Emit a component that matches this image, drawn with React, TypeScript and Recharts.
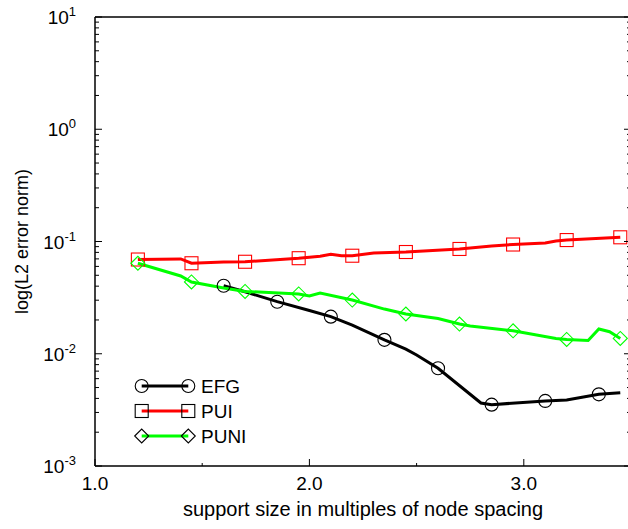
import { Label, Legend, Line, LineChart, XAxis, YAxis } from "recharts";

const FONT = "'Liberation Sans', Arial, Helvetica, sans-serif";

// EFG
const efgX = [1.6, 1.7, 1.85, 2.0, 2.1, 2.2, 2.35, 2.45, 2.5, 2.6, 2.8, 2.85, 3.1, 3.2, 3.35, 3.45];
const efgErr = [0.0404, 0.0357, 0.0291, 0.0243, 0.0214, 0.018, 0.0133, 0.011, 0.00975, 0.00742, 0.00364, 0.00352, 0.0038, 0.00388, 0.00435, 0.0045];
const efgMarks = [1.6, 1.85, 2.1, 2.35, 2.6, 2.85, 3.1, 3.35];

// PUI
const puiX = [1.2, 1.4, 1.45, 1.6, 1.7, 1.95, 2.05, 2.1, 2.15, 2.2, 2.3, 2.45, 2.7, 2.85, 2.95, 3.1, 3.15, 3.2, 3.45];
const puiErr = [0.0691, 0.07, 0.064, 0.0656, 0.066, 0.071, 0.074, 0.0769, 0.0747, 0.0747, 0.079, 0.0806, 0.0858, 0.0912, 0.094, 0.097, 0.101, 0.103, 0.109];
const puiMarks = [1.2, 1.45, 1.7, 1.95, 2.2, 2.45, 2.7, 2.95, 3.2, 3.45];

// PUNI
const puniX = [1.2, 1.4, 1.45, 1.6, 1.7, 1.95, 2.0, 2.05, 2.2, 2.35, 2.45, 2.6, 2.7, 2.75, 2.95, 3.15, 3.2, 3.3, 3.35, 3.4, 3.45];
const puniErr = [0.064, 0.0493, 0.0436, 0.0385, 0.0359, 0.0341, 0.0327, 0.0348, 0.0301, 0.025, 0.0226, 0.0206, 0.0184, 0.0177, 0.016, 0.0137, 0.0134, 0.0131, 0.0166, 0.0157, 0.0137];
const puniMarks = [1.2, 1.45, 1.7, 1.95, 2.2, 2.45, 2.7, 2.95, 3.2, 3.45];

const seriesNames = ["EFG", "PUI", "PUNI"];
const seriesColors = ["#000000", "#ff0000", "#00ff00"];
const seriesShapes = ["circle", "square", "diamond"];

const xTicks = [1, 1.5, 2, 2.5, 3];
const xMajor = [1, 2, 3];
const decades = [0.001, 0.01, 0.1, 1];
const mults = [1, 2, 3, 4, 5, 6, 7, 8, 9];
const yTicks = [...decades.flatMap(d => mults.map(m => +(d * m).toPrecision(3))), 10];

const toData = (xs: number[], ys: number[]) => xs.map((x, i) => ({ x, y: ys[i] }));

const isDecade = (v: number) => Math.abs(Math.log10(v) - Math.round(Math.log10(v))) < 1e-9;

function Marker({ shape, cx, cy, color }: { shape: string; cx: number; cy: number; color: string }) {
  if (shape === "circle") return <circle cx={cx} cy={cy} r={6.5} fill="none" stroke={color} strokeWidth={1.1} />;
  if (shape === "square") return <rect x={cx - 6.5} y={cy - 6.5} width={13} height={13} fill="none" stroke={color} strokeWidth={1.1} />;
  return <path d={`M${cx - 7},${cy}L${cx},${cy - 7}L${cx + 7},${cy}L${cx},${cy + 7}Z`} fill="none" stroke={color} strokeWidth={1.1} />;
}

const makeDot = (marks: number[], shape: string, color: string) => (p: any) => {
  if (!marks.includes(p.payload?.x) || p.cx == null) return <g key={`n${p.index}`} />;
  return (
    <g key={`m${p.index}`}>
      <Marker shape={shape} cx={p.cx} cy={p.cy} color={color} />
    </g>
  );
};

const LeftTick = ({ x, y, payload }: any) => {
  const major = isDecade(payload.value);
  const e = Math.round(Math.log10(payload.value));
  return (
    <g>
      <line x1={x} x2={x + (major ? 7 : 4)} y1={y} y2={y} stroke="#000" strokeWidth={1} />
      {major && (
        <text x={x - 19} y={y + 7} textAnchor="end" fontFamily={FONT} fontSize={19} fill="#000">
          10<tspan dy={-8} fontSize={13}>{String(e)}</tspan>
        </text>
      )}
    </g>
  );
};

const RightTick = ({ x, y, payload }: any) => {
  const major = isDecade(payload.value);
  return <line x1={x} x2={x - (major ? 7 : 4)} y1={y} y2={y} stroke="#000" strokeWidth={1} />;
};

const BottomTick = ({ x, y, payload }: any) => {
  const major = xMajor.includes(payload.value);
  return (
    <g>
      <line x1={x} x2={x} y1={y} y2={y - (major ? 7 : 3)} stroke="#000" strokeWidth={1} />
      {major && (
        <text x={x} y={y + 24} textAnchor="middle" fontFamily={FONT} fontSize={19} fill="#000">
          {payload.value.toFixed(1)}
        </text>
      )}
    </g>
  );
};

const TopTick = ({ x, y, payload }: any) => {
  const major = xMajor.includes(payload.value);
  return <line x1={x} x2={x} y1={y} y2={y + (major ? 7 : 3)} stroke="#000" strokeWidth={1} />;
};

function LegendBox() {
  return (
    <svg width={130} height={80} style={{ display: "block", overflow: "visible" }}>
      {seriesNames.map((name, i) => {
        const cy = 16 + i * 25;
        return (
          <g key={name}>
            <line x1={11.7} x2={58.3} y1={cy} y2={cy} stroke={seriesColors[i]} strokeWidth={3} />
            <Marker shape={seriesShapes[i]} cx={11.7} cy={cy} color="#000" />
            <Marker shape={seriesShapes[i]} cx={58.3} cy={cy} color="#000" />
            <text x={71} y={cy + 7} fontFamily={FONT} fontSize={19} fill="#000">{name}</text>
          </g>
        );
      })}
    </svg>
  );
}

const axisLine = { stroke: "#000", strokeWidth: 1.5 };

export default function App() {
  const series = [toData(efgX, efgErr), toData(puiX, puiErr), toData(puniX, puniErr)];
  const marks = [efgMarks, puiMarks, puniMarks];
  return (
    <div style={{ position: "absolute", left: 0, top: 0, width: 628, height: 529, overflow: "hidden", background: "#fff" }}>
      <LineChart width={640} height={529} margin={{ top: 0, right: 0, bottom: 0, left: 0 }}>
        <XAxis dataKey="x" type="number" domain={[1, 3.5]} ticks={xTicks} allowDataOverflow
          height={63} tickSize={0} tickMargin={0} tickLine={false} axisLine={axisLine} tick={BottomTick} interval={0}>
          <Label content={(p: any) => {
            const vb = p.viewBox || { x: 95, y: 466, width: 536, height: 63 };
            return (
              <text x={vb.x + vb.width / 2} y={vb.y + 50} textAnchor="middle" fontFamily={FONT} fontSize={20} fill="#000">
                support size in multiples of node spacing
              </text>
            );
          }} />
        </XAxis>
        <XAxis xAxisId="top" orientation="top" type="number" domain={[1, 3.5]} ticks={xTicks.slice(1)} allowDataOverflow
          height={17} tickSize={0} tickMargin={0} tickLine={false} axisLine={axisLine} tick={TopTick} interval={0} />
        <YAxis type="number" scale="log" domain={[0.001, 10]} ticks={yTicks} allowDataOverflow
          width={95} tickSize={0} tickMargin={0} tickLine={false} axisLine={axisLine} tick={LeftTick} interval={0}>
          <Label content={(p: any) => {
            const vb = p.viewBox || { x: 0, y: 17, width: 95, height: 449 };
            const cx = vb.x + 28;
            const cy = vb.y + vb.height / 2;
            return (
              <text x={cx} y={cy} transform={`rotate(-90 ${cx} ${cy})`} textAnchor="middle" fontFamily={FONT} fontSize={18} fill="#000">
                log(L2 error norm)
              </text>
            );
          }} />
        </YAxis>
        <YAxis yAxisId="right" orientation="right" type="number" scale="log" domain={[0.001, 10]} ticks={yTicks} allowDataOverflow
          width={9} tickSize={0} tickMargin={0} tickLine={false} axisLine={axisLine} tick={RightTick} interval={0} />
        {series.map((d, i) => (
          <Line key={seriesNames[i]} data={d} dataKey="y" name={seriesNames[i]} type="linear"
            stroke={seriesColors[i]} strokeWidth={3} dot={makeDot(marks[i], seriesShapes[i], seriesColors[i])}
            activeDot={false} isAnimationActive={false} />
        ))}
        <Legend layout="vertical" align="center" verticalAlign="middle" content={() => <LegendBox />}
          wrapperStyle={{ left: 130, top: 370, width: 130, height: 80 }} />
      </LineChart>
    </div>
  );
}
